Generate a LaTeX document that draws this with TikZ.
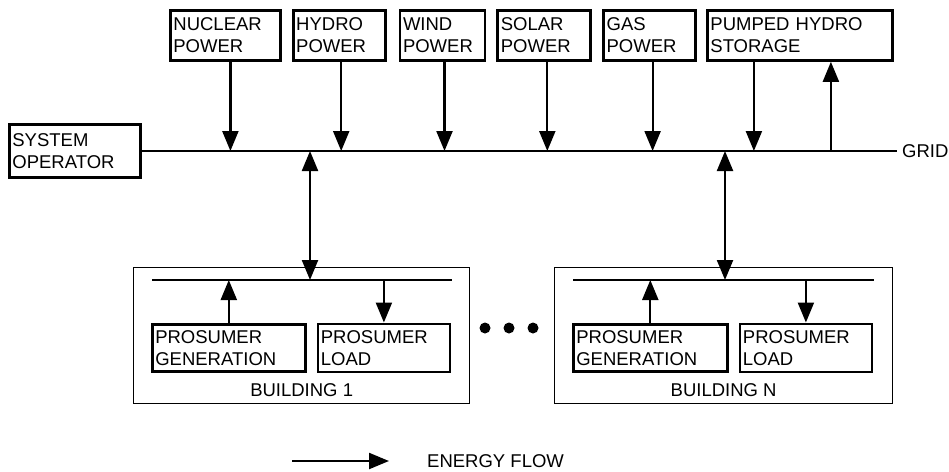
\documentclass[tikz,border=0pt]{standalone}
\usepackage{fontspec}
\setmainfont{Liberation Sans}
\usepackage{tikz}
\usetikzlibrary{arrows.meta}
\usetikzlibrary{positioning}

\begin{document}
\begin{tikzpicture}[x=1pt, y=-1pt,
    every node/.style={font=\fontsize{18.5}{22}\selectfont},
    src/.style={draw, line width=2.8pt, align=left, inner xsep=3pt,
        inner ysep=0pt, minimum height=50pt},
    unit/.style={draw, line width=2.6pt, align=left, inner xsep=3pt,
        inner ysep=0pt, minimum height=47pt},
    house/.style={draw, line width=1.3pt, inner sep=0pt, anchor=north west},
    flow/.style={line width=2.2pt, -{Triangle[length=20pt, width=16pt]}},
    twoway/.style={line width=2.2pt,
        {Triangle[length=20pt, width=16pt]}-{Triangle[length=20pt, width=16pt]}},
    bus/.style={line width=2.7pt}]

                \useasboundingbox (0,0) rectangle (949,471);

                % Operator, grid and the power plants on top
                \begin{scope}
                    \node (SO) [src, text width=125pt, minimum height=53pt,
                        anchor=west] at (8,151) {SYSTEM\\OPERATOR};
                    \node (GRID) [anchor=west, inner xsep=5pt, inner ysep=2pt]
                        at (897,151) {GRID};

                    \node (NP) [src, text width=104pt, anchor=north west]
                        at (169,9) {NUCLEAR\\POWER};
                    \node (HP) [src, text width=86pt, right=10pt of NP]
                    {HYDRO\\POWER};
                    \node (WP) [src, text width=79pt, right=12pt of HP]
                    {WIND\\POWER};
                    \node (SP) [src, text width=87pt, right=10pt of WP]
                    {SOLAR\\POWER};
                    \node (GP) [src, text width=86pt, right=10pt of SP]
                    {GAS\\POWER};
                    \node (PHS) [src, text width=179pt, right=9pt of GP]
                    {PUMPED HYDRO\\STORAGE};
                \end{scope}

                % Buildings
                \begin{scope}
                    \node (B1) [house, minimum width=336pt, minimum height=136pt]
                        at (133,267) {};
                    \node (G1) [unit, text width=147pt, anchor=north west]
                        at (151,323) {PROSUMER\\GENERATION};
                    \node (L1) [unit, text width=126pt, minimum height=48pt,
                        right=10pt of G1] {PROSUMER\\LOAD};
                    \node (B1-lbl) [above=5pt of B1.south, inner sep=2pt]
                    {BUILDING 1};

                    \node (BN) [house, minimum width=338pt, minimum height=136pt]
                        at (554,267) {};
                    \node (GN) [unit, text width=148pt, anchor=north west]
                        at (572,323) {PROSUMER\\GENERATION};
                    \node (LN) [unit, text width=126pt, minimum height=48pt,
                        right=10pt of GN] {PROSUMER\\LOAD};
                    \node (BN-lbl) [above=5pt of BN.south, inner sep=2pt]
                    {BUILDING N};

                    \foreach \x [count=\i] in {485,509,533}
                        \node (dot\i) [circle, fill, inner sep=0pt,
                            minimum size=11pt] at (\x,328) {};

                    \coordinate (B1-w) at (152,280);
                    \coordinate (B1-e) at (452,280);
                    \coordinate (B1-t) at (310,280);
                    \coordinate (BN-w) at (573,280);
                    \coordinate (BN-e) at (874,280);
                    \coordinate (BN-t) at (725,280);
                \end{scope}

                % Legend
                \coordinate (LEG-a) at (292,461);
                \coordinate (LEG-b) at (389,461);
                \node (LEG) [anchor=west, inner sep=0pt] at (427,461)
                {ENERGY FLOW};

                \begin{scope}
                    \draw[bus] (SO.east) -- (GRID.west);
                    \draw[bus] (B1-w) -- (B1-e);
                    \draw[bus] (BN-w) -- (BN-e);

                    \foreach \n/\s in {NP/5,HP/2,WP/2,SP/3,GP/3}
                        \draw[flow] ([xshift=\s pt]\n.south) coordinate (\n-a)
                            -- (\n-a |- SO.east);
                    \coordinate (PHS-a) at ([xshift=-46pt]PHS.south);
                    \coordinate (PHS-b) at ([xshift=31pt]PHS.south);
                    \draw[flow] (PHS-a) -- (PHS-a |- SO.east);
                    \draw[flow] (PHS-b |- SO.east) -- (PHS-b);

                    \draw[twoway] (B1-t |- SO.east) -- (B1-t);
                    \draw[twoway] (BN-t |- SO.east) -- (BN-t);

                    \draw[flow] (G1.north) -- (G1.north |- B1-w);
                    \draw[flow] (L1.north |- B1-w) -- (L1.north);
                    \draw[flow] (GN.north) -- (GN.north |- BN-w);
                    \draw[flow] (LN.north |- BN-w) -- (LN.north);

                    \draw[flow] (LEG-a) -- (LEG-b);
                \end{scope}

                \end{tikzpicture}
\end{document}
